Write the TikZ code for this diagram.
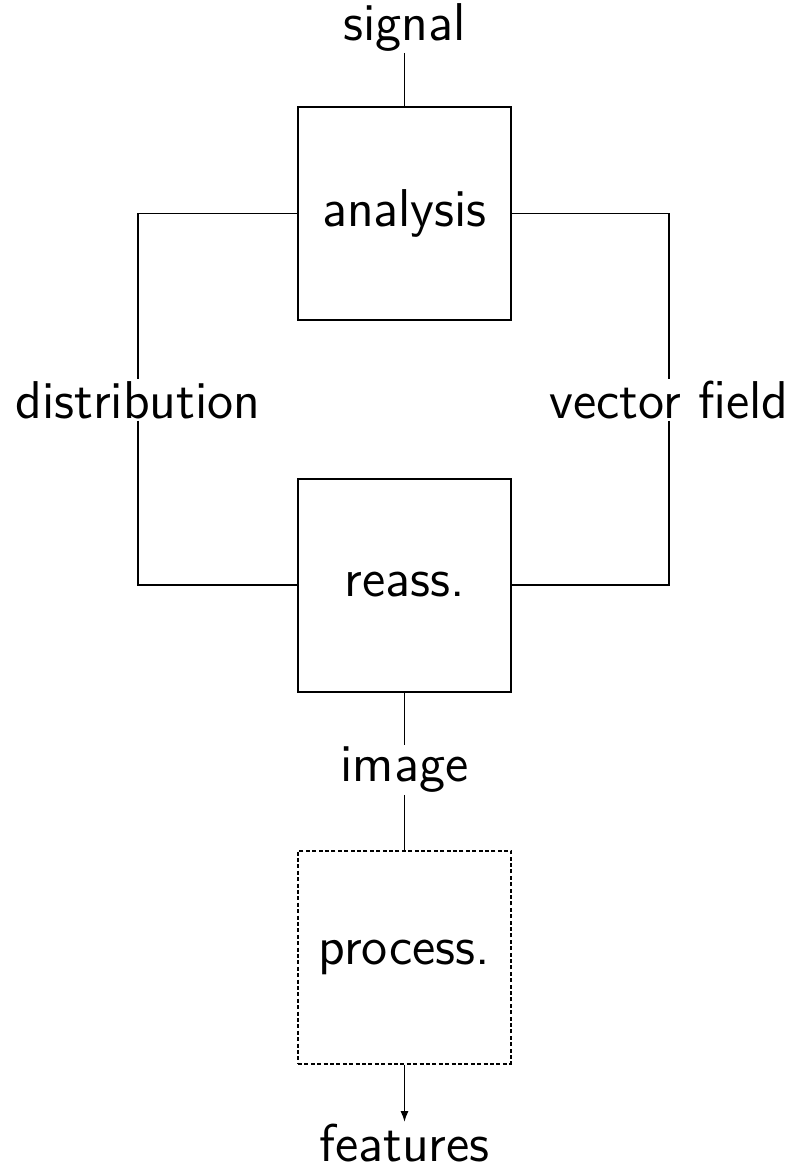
\documentclass[tikz,border=0pt]{standalone}
\usetikzlibrary{positioning,arrows.meta}
\begin{document}
\begin{tikzpicture}[x=0.25pt,y=-0.25pt,
    font=\sffamily\fontsize{13.3}{16}\selectfont,
    block/.style={draw, line width=0.5pt, minimum size=53.25pt, inner sep=0pt},
    dotblock/.style={block, dash pattern=on 1pt off 0.6pt},
    tag/.style={inner sep=0.3pt},
    link/.style={line width=0.4pt}]
    \useasboundingbox (0,0) rectangle (798,1166);
    % the three boxes
    \node[block] (ana) at (404.5,213.5) {analysis};
    \node[block] (reas) at (404.5,585) {reass.};
    \node[dotblock] (proc) at (404.5,957) {process.};
    % texts on the lines
    \node[tag] (sig) at (404.5,27) {signal};
    \node[tag] (dist) at (138,400) {distribution};
    \node[tag] (vf) at (669,400) {vector f{}ield};
    \node[tag] (img) at (404.5,770) {image};
    \node[tag] (feat) at (404.5,1143) {features};
    % connections
    \draw[link] (sig.south) -- (ana.north);
    \draw[link] (ana.west) -| (dist.north);
    \draw[link] (dist.south) |- (reas.west);
    \draw[link] (ana.east) -| (vf.north);
    \draw[link] (vf.south) |- (reas.east);
    \draw[link] (reas.south) -- (img.north);
    \draw[link] (img.south) -- (proc.north);
    \draw[link,-{Latex[length=2.7pt,width=2pt]}] (proc.south) -- (feat.north);
\end{tikzpicture}
\end{document}
